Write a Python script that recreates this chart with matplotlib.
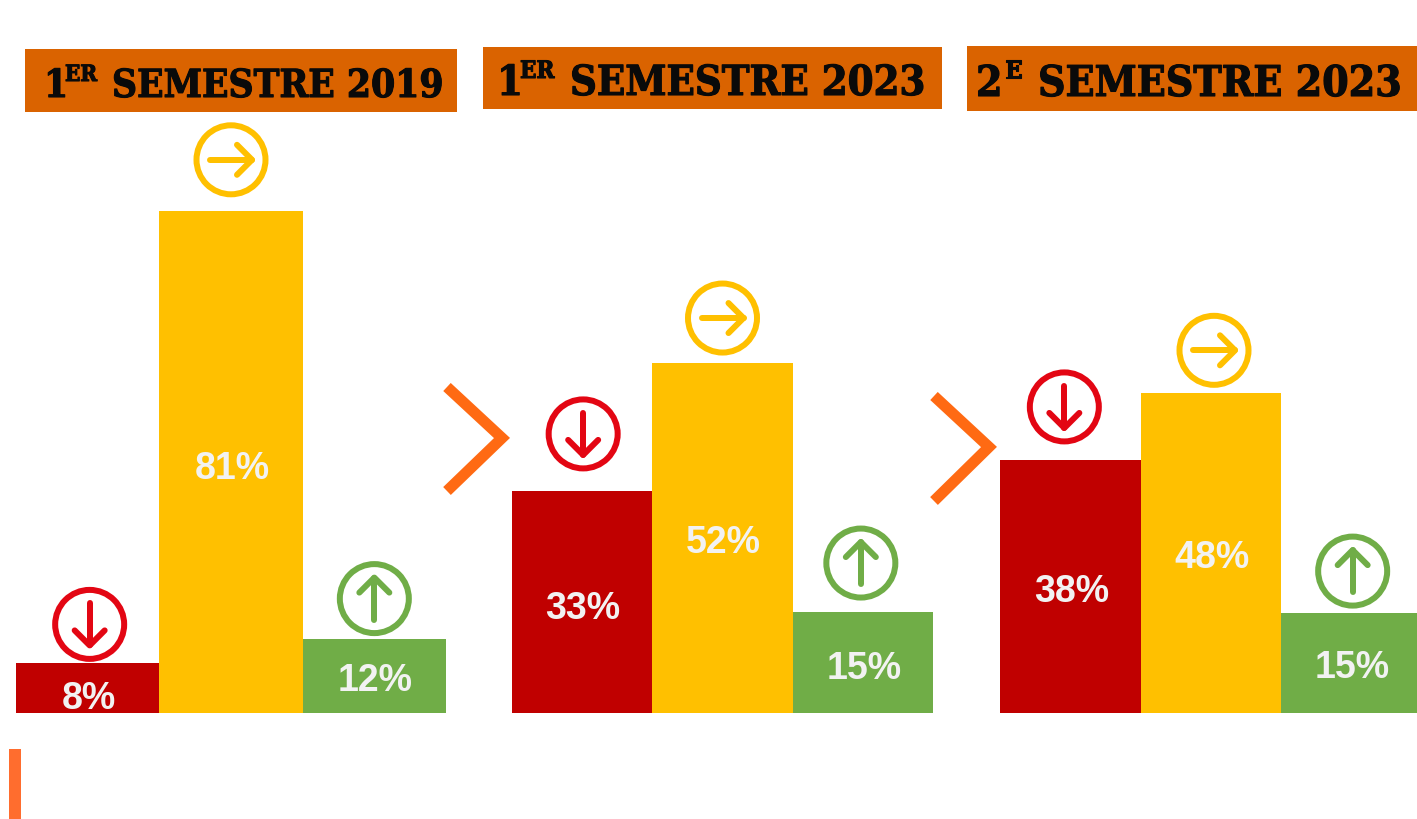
import matplotlib
matplotlib.use("Agg")
import matplotlib.pyplot as plt
import matplotlib.patheffects as pe
from matplotlib.patches import Circle, Rectangle
from matplotlib.transforms import ScaledTranslation

W, H = 1417, 820
BASELINE = 714

# values (% of answers), one list per semester
categories = ["baisse", "stable", "hausse"]
values_s1_2019 = [8, 81, 12]
values_s1_2023 = [33, 52, 15]
values_s2_2023 = [38, 48, 15]
labels_s1_2019 = ["8%", "81%", "12%"]
labels_s1_2023 = ["33%", "52%", "15%"]
labels_s2_2023 = ["38%", "48%", "15%"]

BAR_COLORS = ["#C00000", "#FFC000", "#70AD47"]
ICON_COLORS = ["#E30613", "#FFC000", "#70AD47"]
BANNER_COLOR = "#DA6300"
CHEVRON_COLOR = "#FF6A13"
LABEL_COLOR = "#F2F2F2"
ARROW_DIRS = [(0, 1), (1, 0), (0, -1)]

plt.rcParams["font.family"] = ["Liberation Sans", "DejaVu Sans"]

fig = plt.figure(figsize=(W / 100, H / 100), dpi=100, facecolor="white")

# overlay in image pixels for the banners, chevrons and icons
overlay = fig.add_axes([0, 0, 1, 1], zorder=5)
overlay.set_xlim(0, W)
overlay.set_ylim(H, 0)
overlay.axis("off")


def px(v):
    return v * 72 / 100


def draw_icon(cx, cy, color, direction):
    overlay.add_patch(Circle((cx, cy), 34.5, fill=False, edgecolor=color, linewidth=px(6)))
    dx, dy = direction
    style = dict(color=color, linewidth=px(6), solid_capstyle="round", solid_joinstyle="round")
    overlay.plot([cx - 21 * dx, cx + 21 * dx], [cy - 21 * dy, cy + 21 * dy], **style)
    tipx, tipy = cx + 21 * dx, cy + 21 * dy
    overlay.plot(
        [tipx - 15 * dx - 15 * dy, tipx, tipx - 15 * dx + 15 * dy],
        [tipy - 15 * dy - 15 * dx, tipy, tipy - 15 * dy + 15 * dx],
        **style,
    )


def draw_panel(values, labels, left, right, scale, gaps, shifts, label_shifts):
    # scale is pixels per percentage point, it differs between the panels
    ax = fig.add_axes([left / W, (H - BASELINE) / H, (right - left) / W, BASELINE / H])
    ax.bar(range(3), values, width=1.0, color=BAR_COLORS, linewidth=0)
    ax.set_xlim(-0.5, 2.5)
    ax.set_ylim(0, BASELINE / scale)
    ax.axis("off")

    bar_w = (right - left) / 3
    for i, (v, lab) in enumerate(zip(values, labels)):
        cx = left + (i + 0.5) * bar_w
        top = BASELINE - v * scale
        ax.text(
            i,
            v / 2,
            lab,
            color=LABEL_COLOR,
            fontsize=27,
            fontweight="bold",
            ha="center",
            va="center_baseline",
            transform=ax.transData + ScaledTranslation(1 / 100, -label_shifts[i] / 100, fig.dpi_scale_trans),
        )
        draw_icon(cx + shifts[i], top - gaps[i], ICON_COLORS[i], ARROW_DIRS[i])


def draw_banner(x0, x1, y0, y1, num, sup, rest, fs, num_x, sup_x, rest_x, base_y, sup_y):
    overlay.add_patch(Rectangle((x0, y0), x1 - x0, y1 - y0, facecolor=BANNER_COLOR, edgecolor="none"))
    style = dict(
        family="DejaVu Serif",
        stretch="condensed",
        fontweight="bold",
        color="#0A0A0A",
        va="baseline",
        ha="left",
        path_effects=[pe.withStroke(linewidth=0.8, foreground="#0A0A0A")],
    )
    overlay.text(num_x, base_y, num, fontsize=fs, **style)
    overlay.text(sup_x, sup_y, sup, fontsize=fs * 0.58, **style)
    overlay.text(rest_x, base_y, rest, fontsize=fs, **style)


def draw_chevron(x0, xtip, ytop, ytip, ybot):
    overlay.plot(
        [x0, xtip, x0],
        [ytop, ytip, ybot],
        color=CHEVRON_COLOR,
        linewidth=px(11),
        solid_capstyle="butt",
        solid_joinstyle="miter",
    )


draw_panel(values_s1_2019, labels_s1_2019, 16, 446, 6.2, [39, 51, 40], [2, 0, 0], [6, 2, 0])
draw_panel(values_s1_2023, labels_s1_2023, 512, 933, 6.73, [57, 45, 49], [1, 0, -2], [2, 0, 1])
draw_panel(values_s2_2023, labels_s2_2023, 1000, 1422, 6.66, [53, 43, 42], [-6, 3, 1], [1, 0, 0])

draw_banner(25, 457, 50, 113, "1", "ER", "SEMESTRE 2019", 27.8, 44, 65, 112, 98, 82)
draw_banner(483, 942, 48, 110, "1", "ER", "SEMESTRE 2023", 29.8, 497, 520, 570, 96, 79)
draw_banner(967, 1417, 47, 112, "2", "E", "SEMESTRE 2023", 30.5, 976, 1005, 1038, 97, 79)

draw_chevron(447, 502, 388, 439, 492)
draw_chevron(934, 989, 397, 448, 502)

overlay.add_patch(Rectangle((9, 750), 12, 70, facecolor="#FF6D2E", edgecolor="none"))

fig.savefig("out.png", dpi=100)
